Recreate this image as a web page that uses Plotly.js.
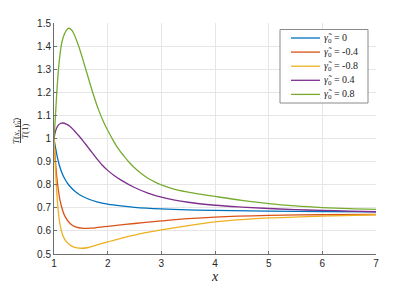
<!DOCTYPE html>
<html>
<head>
<meta charset="utf-8">
<script src="https://cdn.plot.ly/plotly-3.0.1.min.js"></script>
<style>html,body{margin:0;padding:0;background:#fff}#chart{width:415px;height:289px}</style>
</head>
<body>
<div id="chart"></div>
<script>
// gamma values (legend)
const gammaLabels = ['0', '-0.4', '-0.8', '0.4', '0.8'];

// gamma = 0 (blue)
const xG0 = [1,1.03,1.06,1.1,1.15,1.2,1.25,1.3,1.4,1.5,1.65,1.8,2,2.25,2.5,3,3.5,4,5,6,7];
const yG0 = [1,0.958,0.922,0.884,0.85,0.826,0.807,0.792,0.769,0.753,0.737,0.726,0.716,0.708,0.702,0.695,0.691,0.689,0.686,0.684,0.682];
// gamma = -0.4 (red)
const xGm04 = [1,1.02,1.05,1.08,1.11,1.15,1.2,1.3,1.4,1.55,1.7,2,2.5,3,3.5,4,5,6,7];
const yGm04 = [1,0.925,0.838,0.778,0.735,0.697,0.665,0.632,0.617,0.611,0.612,0.62,0.632,0.643,0.653,0.66,0.667,0.67,0.671];
// gamma = -0.8 (yellow)
const xGm08 = [1,1.02,1.04,1.07,1.1,1.15,1.2,1.28,1.37,1.5,1.62,1.8,2,2.25,2.5,3,3.5,4,4.5,5,6,7];
const yGm08 = [1,0.9,0.81,0.71,0.645,0.59,0.563,0.542,0.53,0.525,0.527,0.539,0.553,0.568,0.582,0.604,0.623,0.639,0.649,0.656,0.664,0.67];
// gamma = 0.4 (purple)
const xG04 = [1,1.03,1.07,1.12,1.17,1.23,1.3,1.37,1.45,1.54,1.62,1.71,1.8,1.9,2,2.12,2.25,2.5,2.75,3,3.25,3.5,4,4.5,5,5.5,6,6.5,7];
const yG04 = [1,1.033,1.055,1.065,1.067,1.062,1.052,1.036,1.015,0.99,0.966,0.939,0.912,0.884,0.862,0.84,0.82,0.788,0.764,0.746,0.733,0.724,0.711,0.703,0.697,0.692,0.689,0.686,0.683];
// gamma = 0.8 (green)
const xG08 = [1,1.02,1.05,1.08,1.11,1.15,1.2,1.267,1.32,1.36,1.454,1.547,1.64,1.734,1.827,1.92,2.013,2.1,2.2,2.3,2.4,2.5,2.625,2.75,2.875,3,3.25,3.5,3.75,4,4.5,5,5.5,6,6.5,7];
const yG08 = [1,1.07,1.19,1.29,1.36,1.42,1.455,1.477,1.472,1.458,1.404,1.335,1.262,1.19,1.126,1.074,1.03,0.993,0.955,0.925,0.897,0.873,0.848,0.828,0.812,0.799,0.78,0.768,0.758,0.749,0.732,0.718,0.708,0.701,0.696,0.693];

const xTicks = [1,2,3,4,5,6,7];
const yTicks = [0.5,0.6,0.7,0.8,0.9,1,1.1,1.2,1.3,1.4,1.5];

const colors = ['#0072BD','#D95319','#EDB120','#7E2F8E','#77AC30'];
const series = [[xG0,yG0],[xGm04,yGm04],[xGm08,yGm08],[xG04,yG04],[xG08,yG08]];

const W = 415, H = 289, L = 54, R = 39, T = 23, B = 35;
const pw = W - L - R, ph = H - T - B;
const px = p => (p - L) / pw;
const py = p => (H - B - p) / ph;

const traces = series.map((s, i) => ({
  x: s[0], y: s[1], type: 'scatter', mode: 'lines',
  line: {color: colors[i], width: 1.3, shape: 'spline', smoothing: 1},
  name: gammaLabels[i], showlegend: false, hoverinfo: 'skip'
}));

const serif = 'Liberation Serif';
const gt = '<i>γ̃</i><sub>0</sub>';

const shapes = [];
const annotations = [];
// legend box
shapes.push({type:'rect', xref:'paper', yref:'paper', x0:px(280), x1:px(368), y0:py(103), y1:py(29.5),
  line:{color:'#8a8a8a', width:1}, fillcolor:'#ffffff', layer:'above'});
gammaLabels.forEach((g, i) => {
  const yy = 38 + i * 14.1;
  shapes.push({type:'line', xref:'paper', yref:'paper', x0:px(291), x1:px(320), y0:py(yy), y1:py(yy),
    line:{color:colors[i], width:1.3}, layer:'above'});
  annotations.push({xref:'paper', yref:'paper', x:px(322), y:py(yy), xanchor:'left', yanchor:'middle',
    text: gt + ' = ' + g, showarrow:false, font:{family:serif, size:10, color:'#1a1a1a'}});
});
// y-axis title as a fraction
annotations.push({xref:'paper', yref:'paper', x:px(16), y:py(131), xanchor:'center', yanchor:'middle',
  text:'<i>T</i>(<i>x</i>, ' + gt + ')', textangle:-90, showarrow:false, font:{family:serif, size:9, color:'#1a1a1a'}});
annotations.push({xref:'paper', yref:'paper', x:px(25), y:py(131), xanchor:'center', yanchor:'middle',
  text:'<i>T</i>(1)', textangle:-90, showarrow:false, font:{family:serif, size:9, color:'#1a1a1a'}});
shapes.push({type:'line', xref:'paper', yref:'paper', x0:px(20.5), x1:px(20.5), y0:py(119), y1:py(143),
  line:{color:'#1a1a1a', width:0.8}});

const axisCommon = {
  showgrid:true, gridcolor:'#e6e6e6', gridwidth:1, zeroline:false,
  showline:true, linecolor:'#6e6e6e', linewidth:1, ticks:'inside', ticklen:3, tickcolor:'#6e6e6e',
  tickfont:{family:'Liberation Sans', size:10, color:'#262626'}, fixedrange:true
};

const layout = {
  width:W, height:H, margin:{l:L, r:R, t:T, b:B}, paper_bgcolor:'#fff', plot_bgcolor:'#fff',
  showlegend:false,
  xaxis: Object.assign({}, axisCommon, {range:[1,7], tickvals:xTicks,
    title:{text:'<i>x</i>', font:{family:serif, size:14, color:'#1a1a1a'}, standoff:3}}),
  yaxis: Object.assign({}, axisCommon, {range:[0.5,1.5], tickvals:yTicks,
    ticktext: yTicks.map(v => String(v))}),
  shapes: shapes, annotations: annotations
};

Plotly.newPlot('chart', traces, layout, {displayModeBar:false, staticPlot:true});
</script>
</body>
</html>
